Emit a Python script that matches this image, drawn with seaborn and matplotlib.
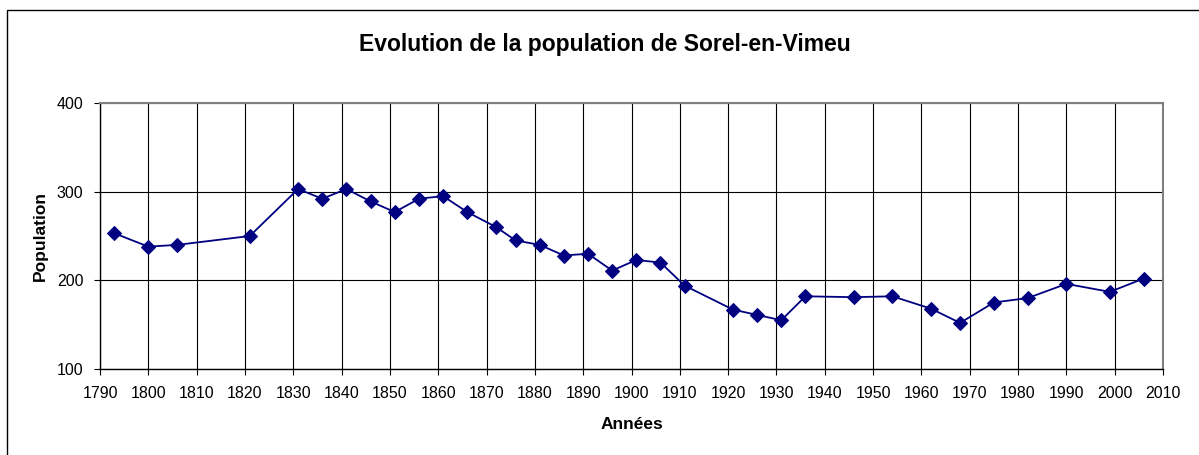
import matplotlib
matplotlib.use('Agg')
import matplotlib.pyplot as plt
import seaborn as sns
import pandas as pd
from matplotlib.patches import Rectangle

annees = [1793, 1800, 1806, 1821, 1831, 1836, 1841, 1846, 1851, 1856, 1861, 1866,
          1872, 1876, 1881, 1886, 1891, 1896, 1901, 1906, 1911, 1921, 1926, 1931,
          1936, 1946, 1954, 1962, 1968, 1975, 1982, 1990, 1999, 2006]
population = [253, 238, 240, 250, 303, 292, 303, 289, 277, 292, 295, 277,
              260, 245, 240, 228, 230, 211, 223, 220, 194, 167, 161, 155,
              182, 181, 182, 168, 152, 175, 180, 196, 187, 202]
xticks = list(range(1790, 2011, 10))
yticks = [100, 200, 300, 400]

sns.set_style("white")
plt.rcParams['font.family'] = ['Liberation Sans', 'DejaVu Sans']
plt.rcParams['text.color'] = 'black'
plt.rcParams['axes.labelcolor'] = 'black'
plt.rcParams['xtick.color'] = 'black'
plt.rcParams['ytick.color'] = 'black'

df = pd.DataFrame({'Années': annees, 'Population': population})

fig = plt.figure(figsize=(11.99, 4.55), dpi=100)
ax = fig.add_axes([100/1199, 1-369/455, 1063/1199, 266/455])

sns.lineplot(data=df, x='Années', y='Population', ax=ax, color='#000080',
             marker='D', markersize=7, markeredgecolor='#000080', linewidth=1.3)

ax.set_xlim(1790, 2010)
ax.set_ylim(100, 400)
ax.set_xticks(xticks)
ax.set_yticks(yticks)
ax.tick_params(axis='both', labelsize=11.5, direction='out', length=4, width=0.8,
               left=True, bottom=True, pad=8)
ax.grid(True, color='black', linewidth=0.8)
for side in ['left', 'bottom']:
    ax.spines[side].set_color('black')
    ax.spines[side].set_linewidth(1)
for side in ['top', 'right']:
    ax.spines[side].set_color('#808080')
    ax.spines[side].set_linewidth(1.5)

ax.set_xlabel('Années', fontsize=12.5, fontweight='bold', labelpad=12)
ax.set_ylabel('Population', fontsize=12.5, fontweight='bold', labelpad=6)
fig.text(605/1199, 1-44/455, 'Evolution de la population de Sorel-en-Vimeu',
         ha='center', va='center', fontsize=16.5, fontweight='bold')

# cadre du graphique (coupé à droite et en bas)
fig.patches.append(Rectangle((7/1199, -0.1), 1.2, 1-10/455+0.1,
                             transform=fig.transFigure, fill=False,
                             edgecolor='black', linewidth=1))

fig.savefig('out.png', dpi=100)
